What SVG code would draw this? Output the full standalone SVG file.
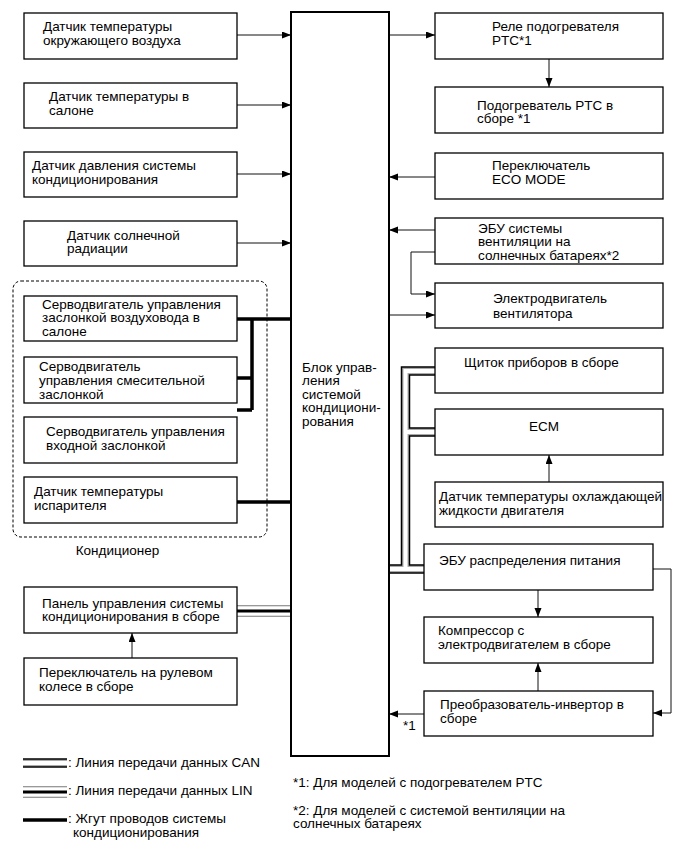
<svg xmlns="http://www.w3.org/2000/svg" width="689" height="857" viewBox="0 0 689 857">
<style>
text{font-family:"Liberation Sans",Arial,sans-serif;font-size:13.5px;fill:#000}
.box{fill:#fff;stroke:#000;stroke-width:1.3}
.ln{fill:none;stroke:#111;stroke-width:1}
.harn{fill:none;stroke:#000;stroke-width:3.5}
.canB{fill:none;stroke:#000;stroke-width:9.5}
.canG{fill:none;stroke:#aaa;stroke-width:6.5}
.canW{fill:none;stroke:#fff;stroke-width:4}
.linG{fill:none;stroke:#777;stroke-width:11.5}
.linW{fill:none;stroke:#fff;stroke-width:9.5}
.linB{fill:none;stroke:#000;stroke-width:3.2}
</style>
<defs>
<marker id="ah" markerUnits="userSpaceOnUse" markerWidth="10" markerHeight="8" refX="9" refY="3.5" orient="auto"><path d="M0,0 L9,3.5 L0,7 z" fill="#000"/></marker>
</defs>

<g id="connectors">
<path class="ln" d="M237,35 H291" marker-end="url(#ah)"/>
<path class="ln" d="M237,105 H291" marker-end="url(#ah)"/>
<path class="ln" d="M237,174 H291" marker-end="url(#ah)"/>
<path class="ln" d="M237,243 H291" marker-end="url(#ah)"/>
<path class="ln" d="M389,35 H435" marker-end="url(#ah)"/>
<path class="ln" d="M549,59 V87" marker-end="url(#ah)"/>
<path class="ln" d="M435,177 H389" marker-end="url(#ah)"/>
<path class="ln" d="M435,230 H389" marker-end="url(#ah)"/>
<path class="ln" d="M435,252 H411 V294 H435" marker-end="url(#ah)"/>
<path class="ln" d="M389,315 H435" marker-end="url(#ah)"/>
<path class="ln" d="M549,482 V455" marker-end="url(#ah)"/>
<path class="ln" d="M538,590 V617" marker-end="url(#ah)"/>
<path class="ln" d="M538,691 V663" marker-end="url(#ah)"/>
<path class="ln" d="M653,569 H671 V713 H653" marker-end="url(#ah)"/>
<path class="ln" d="M424,714 H389" marker-end="url(#ah)"/>
<path class="ln" d="M132,658 V633" marker-end="url(#ah)"/>
<path class="harn" d="M237,319 H291 M252,319 V410 M237,378 H252 M237,410 H252 M237,502 H291"/>
<path class="canB" d="M389,569 H405.5 V371 H435 M405.5,432 H435 M405.5,569 H424"/>
<path class="canG" d="M389,569 H405.5 V371 H435 M405.5,432 H435 M405.5,569 H424"/>
<path class="canW" d="M389,569 H405.5 V371 H435 M405.5,432 H435 M405.5,569 H424"/>
<path class="linG" d="M237,611 H291"/>
<path class="linW" d="M237,611 H291"/>
<path class="linB" d="M237,611 H291"/>
</g>

<g id="ecu-ac"><rect x="291" y="12" width="98" height="744" fill="#fff" stroke="#000" stroke-width="2"/>
<text x="302" y="371.5">Блок управ-</text><text x="302" y="385">ления</text><text x="302" y="398.5">системой</text><text x="302" y="412">кондициони-</text><text x="302" y="425.5">рования</text></g>

<g id="n1"><rect class="box" x="24" y="13" width="213" height="46"/><text x="43" y="31">Датчик температуры</text><text x="43" y="45">окружающего воздуха</text></g>
<g id="n2"><rect class="box" x="24" y="83" width="213" height="45"/><text x="49" y="101">Датчик температуры в</text><text x="49" y="114.5">салоне</text></g>
<g id="n3"><rect class="box" x="24" y="152" width="213" height="45"/><text x="32" y="170">Датчик давления системы</text><text x="32" y="184">кондиционирования</text></g>
<g id="n4"><rect class="box" x="24" y="221" width="213" height="45"/><text x="67" y="239.5">Датчик солнечной</text><text x="67" y="253">радиации</text></g>

<g id="aircon"><rect x="13" y="281" width="254" height="256" rx="8" fill="none" stroke="#000" stroke-width="1" stroke-dasharray="3,2"/><text x="117.5" y="554.5" text-anchor="middle">Кондиционер</text></g>
<g id="n5"><rect class="box" x="24" y="296" width="213" height="45"/><text x="42" y="308.5">Серводвигатель управления</text><text x="42" y="322">заслонкой воздуховода в</text><text x="42" y="335.5">салоне</text></g>
<g id="n6"><rect class="box" x="24" y="357" width="213" height="46"/><text x="39" y="371">Серводвигатель</text><text x="39" y="385">управления смесительной</text><text x="39" y="398.5">заслонкой</text></g>
<g id="n7"><rect class="box" x="24" y="417" width="213" height="46"/><text x="46" y="436">Серводвигатель управления</text><text x="46" y="449.5">входной заслонкой</text></g>
<g id="n8"><rect class="box" x="24" y="477" width="213" height="46"/><text x="34" y="496">Датчик температуры</text><text x="34" y="509.5">испарителя</text></g>

<g id="n9"><rect class="box" x="24" y="587" width="213" height="46"/><text x="42" y="607.5">Панель управления системы</text><text x="42" y="621">кондиционирования в сборе</text></g>
<g id="n10"><rect class="box" x="24" y="658" width="213" height="47"/><text x="39" y="677">Переключатель на рулевом</text><text x="39" y="691">колесе в сборе</text></g>

<g id="r1"><rect class="box" x="435" y="13" width="228" height="46"/><text x="492" y="31">Реле подогревателя</text><text x="492" y="45">PTC*1</text></g>
<g id="r2"><rect class="box" x="435" y="87" width="228" height="46"/><text x="477" y="109.5">Подогреватель PTC в</text><text x="477" y="123">сборе *1</text></g>
<g id="r3"><rect class="box" x="435" y="153" width="228" height="46"/><text x="492" y="170">Переключатель</text><text x="492" y="184">ECO MODE</text></g>
<g id="r4"><rect class="box" x="435" y="218" width="228" height="46"/><text x="478" y="232.5">ЭБУ системы</text><text x="478" y="246">вентиляции на</text><text x="478" y="259.5">солнечных батареях*2</text></g>
<g id="r5"><rect class="box" x="435" y="283" width="228" height="45"/><text x="493" y="303">Электродвигатель</text><text x="493" y="317.5">вентилятора</text></g>
<g id="r6"><rect class="box" x="435" y="348" width="228" height="45"/><text x="464" y="367">Щиток приборов в сборе</text></g>
<g id="r7"><rect class="box" x="435" y="409" width="228" height="46"/><text x="544" y="430.5" text-anchor="middle">ECM</text></g>
<g id="r8"><rect class="box" x="435" y="482" width="228" height="45"/><text x="439" y="501">Датчик температуры охлаждающей</text><text x="439" y="515">жидкости двигателя</text></g>
<g id="r9"><rect class="box" x="424" y="544" width="229" height="46"/><text x="439" y="564.5">ЭБУ распределения питания</text></g>
<g id="r10"><rect class="box" x="424" y="617" width="229" height="46"/><text x="438" y="635">Компрессор с</text><text x="438" y="648.5">электродвигателем в сборе</text></g>
<g id="r11"><rect class="box" x="424" y="691" width="229" height="45"/><text x="440" y="709">Преобразователь-инвертор в</text><text x="440" y="722.5">сборе</text></g>
<text x="403" y="729.5">*1</text>

<g id="legend">
<path class="canB" d="M23,763 H67"/><path class="canG" d="M23,763 H67"/><path class="canW" d="M23,763 H67"/>
<text x="68" y="767">: Линия передачи данных CAN</text>
<path class="linG" d="M23,792 H67"/><path class="linW" d="M23,792 H67"/><path class="linB" d="M23,792 H67"/>
<text x="68" y="795">: Линия передачи данных LIN</text>
<path class="harn" d="M23,820 H67"/>
<text x="68" y="823">: Жгут проводов системы</text><text x="73" y="836.5">кондиционирования</text>
</g>
<g id="notes">
<text x="293" y="786.5">*1: Для моделей с подогревателем PTC</text>
<text x="293" y="814.5">*2: Для моделей с системой вентиляции на</text>
<text x="293" y="828">солнечных батареях</text>
</g>
</svg>
